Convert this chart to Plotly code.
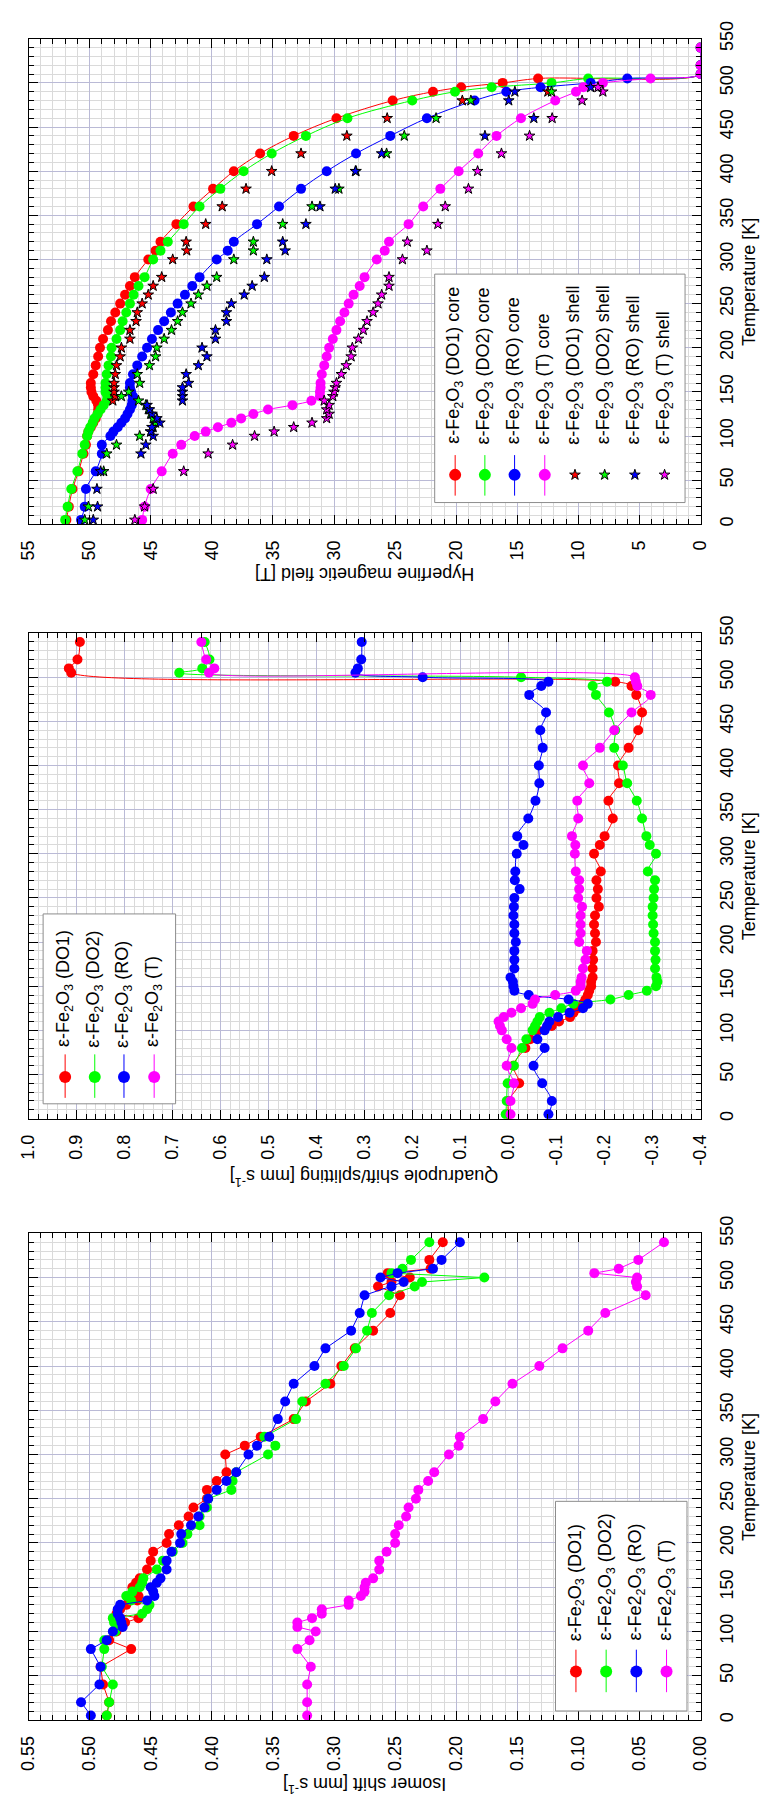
import plotly.graph_objects as go

# ======================= DATA =======================
# temperature grids [K]
T_CORE = [5, 20, 40, 60, 80, 90, 100, 105, 110, 115, 120, 125, 130, 135, 140, 145, 150, 155, 160,
          170, 180, 190, 200, 210, 220, 230, 240, 250, 260, 270, 280,
          300, 310, 320, 340, 360, 380, 400, 420, 440, 460, 480,
          490, 495, 500, 505, 510, 520, 540]
T_Q_RED = [5, 20, 40, 60, 80, 90, 100, 105, 110, 115, 120, 125, 130, 135, 140, 145, 150, 155, 160,
           170, 180, 190, 200, 210, 220, 230, 240, 250, 260, 270, 280,
           300, 310, 320, 340, 360, 380, 400, 420, 440, 460, 480,
           490, 495, 505, 510, 520, 540]
T_SHELL_DO1 = [140, 145, 150, 155, 160, 170, 180, 190, 200, 210, 220, 230, 240, 250, 260, 270, 280,
               300, 310, 320, 340, 360, 380, 400, 420, 440, 460, 480, 490]
T_SHELL_DO2 = [5, 20, 60, 80, 90, 100, 105, 110, 115, 120, 125, 130, 135, 140, 145, 150, 160,
               170, 180, 190, 200, 210, 220, 230, 240, 250, 260, 270, 280,
               300, 310, 320, 340, 360, 380, 400, 420, 440, 460, 480, 490]
T_SHELL_RO_T = [5, 20, 40, 60, 80, 90, 100, 105, 110, 115, 120, 125, 130, 135, 140, 145, 150, 155, 160,
                170, 180, 190, 200, 210, 220, 230, 240, 250, 260, 270, 280,
                300, 310, 320, 340, 360, 380, 400, 420, 440, 460, 480, 490, 495]

# Hyperfine magnetic field [T]
hf_core_do1 = [51.9, 51.7, 51.4, 50.9, 50.5, 50.3, 50.2, 50.1, 49.9, 49.7, 49.5, 49.35, 49.3, 49.3, 49.45, 49.7, 49.85, 49.9, 49.9,
               49.7, 49.5, 49.3, 49.15, 48.9, 48.5, 48.25, 47.9, 47.5, 47.1, 46.7, 46.3,
               45.2, 44.6, 44.2, 42.9, 41.5, 39.9, 38.2, 36.05, 33.3, 29.8, 25.2,
               21.9, 19.6, 16.2, 13.3, 0, 0, 0]
hf_core_do2 = [52.0, 51.8, 51.5, 51.0, 50.6, 50.4, 50.2, 50.1, 49.95, 49.75, 49.6, 49.35, 49.1, 48.85, 48.6, 48.55, 48.7, 48.7, 48.7,
               48.6, 48.45, 48.25, 48.2, 47.8, 47.5, 47.3, 47.0, 46.7, 46.4, 46.0, 45.5,
               44.8, 44.2, 43.6, 42.3, 41.0, 39.3, 37.4, 35.1, 32.3, 28.9, 23.6,
               20.1, 17.1, 12.2, 9.2, 0, 0, 0]
hf_core_ro = [50.7, 50.4, 50.3, 49.5, 49.0, 49.0, 48.3, 48.05, 47.7, 47.4, 47.1, 46.9, 46.7, 46.55, 46.5, 46.45, 46.6, 46.7, 46.7,
              46.45, 46.1, 45.7, 45.3, 44.9, 44.4, 43.9, 43.35, 42.8, 42.2, 41.6, 41.0,
              39.6, 38.7, 38.2, 36.3, 34.5, 32.7, 30.6, 28.2, 25.4, 22.4, 18.5,
              15.9, 13.1, 9.0, 6.0, 0, 0, 0]
hf_core_t = [45.7, 45.5, 45.0, 44.1, 43.2, 42.5, 41.4, 40.5, 39.5, 38.4, 37.6, 36.6, 35.4, 33.4, 31.85, 31.15, 31.15, 31.1, 31.1,
             31.0, 30.8, 30.6, 30.4, 30.1, 29.8, 29.5, 29.15, 28.8, 28.4, 27.9, 27.5,
             26.5, 25.85, 25.5, 23.9, 22.7, 21.3, 19.8, 18.2, 16.7, 14.7, 11.9,
             10.2, 9.6, 8.0, 4.1, 0, 0, 0]
hf_shell_do1 = [48.1, 47.9, 48.0, 48.0, 48.0, 47.9, 47.8, 47.5, 47.4, 46.7, 46.7, 46.2, 46.1, 45.7, 45.2, 44.8, 44.1,
                43.2, 42.05, 42.1, 40.5, 39.15, 37.2, 35.1, 32.7, 28.95, 25.65, 19.5, 12.5]
hf_shell_do2 = [50.4, 50.1, 48.85, 48.6, 47.8, 45.9, 45.0, 44.8, 44.6, 44.8, 45.0, 45.2, 45.4, 46.0, 47.4, 46.8, 45.9,
                46.1, 45.1, 44.6, 44.5, 43.9, 43.3, 42.8, 42.4, 41.7, 41.1, 40.4, 39.6,
                38.2, 36.6, 36.6, 34.2, 31.8, 29.6, 28.2, 25.7, 24.25, 21.65, 18.8, 12.2]
hf_shell_ro = [49.7, 49.35, 49.4, 49.1, 45.8, 45.4, 44.8, 45.0, 44.9, 44.25, 44.5, 44.9, 45.1, 45.3, 42.4, 42.4, 42.4, 42.4, 41.9,
               42.1, 41.1, 40.4, 40.8, 39.7, 39.7, 38.8, 38.8, 38.4, 37.35, 36.7, 35.7,
               35.5, 34.0, 34.2, 32.3, 31.15, 29.9, 28.25, 26.1, 17.65, 13.65, 15.7, 15.2, 9.0]
hf_shell_t = [46.3, 45.5, 44.8, 42.3, 40.3, 38.3, 36.5, 34.9, 33.3, 31.8, 30.6, 30.4, 30.6, 30.4, 30.8, 30.1, 30.0, 29.9, 29.8,
              29.4, 29.0, 28.6, 28.5, 28.0, 27.6, 27.3, 26.8, 26.4, 26.1, 25.5, 25.5,
              24.4, 22.4, 24.0, 21.5, 20.9, 19.0, 18.25, 16.3, 14.0, 12.15, 9.7, 8.0, 8.4]

# Quadrupole shift/splitting [mm/s]
q_do1 = [0.0, 0.0, -0.022, -0.01, -0.035, -0.045, -0.06, -0.09, -0.105, -0.128, -0.135, -0.145, -0.155, -0.16, -0.165, -0.168, -0.172, -0.172, -0.175,
         -0.175, -0.176, -0.175, -0.182, -0.18, -0.178, -0.18, -0.188, -0.183, -0.186, -0.183, -0.192,
         -0.178, -0.19, -0.2, -0.217, -0.208, -0.23, -0.228, -0.25, -0.27, -0.278, -0.266,
         -0.256, -0.222, 0.911, 0.916, 0.898, 0.893]
q_do2 = [0.006, 0.004, 0.002, -0.011, -0.028, -0.037, -0.05, -0.055, -0.06, -0.065, -0.085, -0.11, -0.135, -0.212, -0.25, -0.288, -0.307, -0.31, -0.308,
         -0.305, -0.306, -0.305, -0.305, -0.302, -0.301, -0.3, -0.3, -0.302, -0.303, -0.305, -0.29,
         -0.307, -0.294, -0.287, -0.278, -0.267, -0.247, -0.238, -0.22, -0.222, -0.209, -0.182,
         -0.175, -0.205, -0.026, 0.686, 0.638, 0.623, 0.633]
q_ro = [-0.083, -0.09, -0.07, -0.052, -0.075, -0.06, -0.075, -0.08, -0.085, -0.103, -0.127, -0.155, -0.165, -0.125, -0.042, -0.012, -0.01, -0.009, -0.004,
        -0.012, -0.012, -0.012, -0.015, -0.012, -0.012, -0.01, -0.011, -0.012, -0.023, -0.013, -0.014,
        -0.017, -0.031, -0.018, -0.041, -0.056, -0.064, -0.063, -0.071, -0.066, -0.078, -0.043,
        -0.068, -0.083, 0.179, 0.319, 0.314, 0.307, 0.306]
q_t = [-0.004, -0.004, -0.011, 0.004, -0.006, 0.004, 0.014, 0.018, 0.021, 0.01, -0.006, -0.026, -0.05, -0.055, -0.097, -0.14, -0.15, -0.15, -0.152,
       -0.155, -0.16, -0.163, -0.147, -0.15, -0.15, -0.15, -0.153, -0.145, -0.147, -0.147, -0.14,
       -0.138, -0.139, -0.132, -0.145, -0.143, -0.168, -0.155, -0.19, -0.22, -0.256, -0.296,
       -0.268, -0.265, -0.263, 0.624, 0.613, 0.63, 0.64]

# Isomer shift [mm/s]
is_do1 = [0.486, 0.484, 0.489, 0.491, 0.466, 0.484, 0.478, 0.474, 0.471, 0.46, 0.478, 0.475, 0.47, 0.461, 0.46, 0.462, 0.465, 0.462, 0.459,
          0.453, 0.45, 0.448, 0.437, 0.435, 0.427, 0.419, 0.415, 0.404, 0.404, 0.396, 0.388,
          0.389, 0.373, 0.36, 0.333, 0.323, 0.303, 0.294, 0.283, 0.268, 0.254, 0.246,
          0.264, 0.253, 0.238, 0.256, 0.221, 0.222, 0.211]
is_do2 = [0.486, 0.484, 0.481, 0.49, 0.488, 0.488, 0.479, 0.478, 0.48, 0.481, 0.457, 0.453, 0.451, 0.466, 0.47, 0.465, 0.459, 0.457, 0.456,
          0.445, 0.44, 0.432, 0.424, 0.42, 0.41, 0.41, 0.404, 0.403, 0.384, 0.383, 0.38,
          0.354, 0.348, 0.357, 0.331, 0.326, 0.307, 0.292, 0.282, 0.273, 0.269, 0.255,
          0.234, 0.228, 0.177, 0.253, 0.244, 0.237, 0.222]
is_ro = [0.499, 0.507, 0.492, 0.491, 0.499, 0.486, 0.481, 0.473, 0.474, 0.475, 0.477, 0.477, 0.475, 0.453, 0.447, 0.448, 0.45, 0.445, 0.442,
         0.437, 0.437, 0.433, 0.426, 0.425, 0.417, 0.411, 0.406, 0.403, 0.396, 0.388, 0.38,
         0.37, 0.363, 0.353, 0.346, 0.34, 0.333, 0.316, 0.307, 0.286, 0.279, 0.275,
         0.253, 0.243, 0.262, 0.248, 0.219, 0.212, 0.197]
is_t = [0.322, 0.322, 0.322, 0.319, 0.33, 0.32, 0.315, 0.33, 0.33, 0.318, 0.31, 0.31, 0.288, 0.288, 0.278, 0.275, 0.275, 0.274, 0.268,
        0.263, 0.263, 0.257, 0.25, 0.25, 0.247, 0.241, 0.239, 0.233, 0.231, 0.223, 0.218,
        0.206, 0.198, 0.197, 0.178, 0.168, 0.154, 0.132, 0.113, 0.092, 0.078, 0.045,
        0.052, 0.053, 0.052, 0.087, 0.067, 0.051, 0.03]

# tick labels
T_TICKS = [0, 50, 100, 150, 200, 250, 300, 350, 400, 450, 500, 550]
HF_TICKS = [55, 50, 45, 40, 35, 30, 25, 20, 15, 10, 5, 0]
Q_TICKS = [1.0, 0.9, 0.8, 0.7, 0.6, 0.5, 0.4, 0.3, 0.2, 0.1, 0.0, -0.1, -0.2, -0.3, -0.4]
Q_TICKTEXT = ["1.0", "0.9", "0.8", "0.7", "0.6", "0.5", "0.4", "0.3", "0.2", "0.1", "0.0",
              "-0.1", "-0.2", "-0.3", "-0.4"]
IS_TICKS = [0.55, 0.50, 0.45, 0.40, 0.35, 0.30, 0.25, 0.20, 0.15, 0.10, 0.05, 0.00]

FE = "ε-Fe<sub>2</sub>O<sub>3</sub>"
FE2 = "ε-Fe2<sub>2</sub>O<sub>3</sub>"
HF_LEGEND = [FE + " (DO1) core", FE + " (DO2) core", FE + " (RO) core", FE + " (T) core",
             FE + " (DO1) shell", FE + " (DO2) shell", FE + " (RO) shell", FE + " (T) shell"]
Q_LEGEND = [FE + " (DO1)", FE + " (DO2)", FE + " (RO)", FE + " (T)"]
IS_LEGEND = [FE + " (DO1)", FE2 + " (DO2)", FE2 + " (RO)", FE2 + " (T)"]

# ======================= STYLE / LAYOUT =======================
W, H = 772, 1800
PL, PR = 19, 709
PANEL_Y = [(21, 512), (622, 1113), (1229, 1721)]
COLS = ["#ff0000", "#00ff00", "#0000ff", "#ff00ff"]
MAJOR_GRID = "#babad6"
MINOR_GRID = "#dadada"
FONT = "Liberation Sans, Arial, sans-serif"
FS = 18

fig = go.Figure()


def add_line(x, y, color, ax, shape):
    fig.add_trace(go.Scatter(x=x, y=y, mode="lines+markers", xaxis="x" + ax, yaxis="y" + ax,
                             line=dict(color=color, width=1, shape=shape),
                             marker=dict(size=10, color=color, line=dict(width=0)),
                             showlegend=False, hoverinfo="skip"))


def add_stars(x, y, color, ax):
    fig.add_trace(go.Scatter(x=x, y=y, mode="markers", xaxis="x" + ax, yaxis="y" + ax,
                             marker=dict(symbol="star", size=8, color=color,
                                         line=dict(width=1, color="black")),
                             showlegend=False, hoverinfo="skip"))


# panel 1 : hyperfine
for vals, c in zip([hf_core_do1, hf_core_do2, hf_core_ro, hf_core_t], COLS):
    add_line(vals, T_CORE, c, "", "spline")
add_stars(hf_shell_do1, T_SHELL_DO1, COLS[0], "")
add_stars(hf_shell_do2, T_SHELL_DO2, COLS[1], "")
add_stars(hf_shell_ro, T_SHELL_RO_T, COLS[2], "")
add_stars(hf_shell_t, T_SHELL_RO_T, COLS[3], "")

# panel 2 : quadrupole
add_line(q_do1, T_Q_RED, COLS[0], "2", "spline")
add_line(q_do2, T_CORE, COLS[1], "2", "spline")
add_line(q_ro, T_CORE, COLS[2], "2", "spline")
add_line(q_t, T_CORE, COLS[3], "2", "spline")

# panel 3 : isomer shift
for vals, c in zip([is_do1, is_do2, is_ro, is_t], COLS):
    add_line(vals, T_CORE, c, "3", "linear")


def xcfg(anchor, rng, tv, tt, mdt):
    return dict(domain=[PL / W, PR / W], anchor=anchor, range=rng, tickmode="array",
                tickvals=tv, ticktext=tt, tickangle=-90, ticks="inside", ticklen=9,
                tickwidth=1, tickcolor="black", showline=True, linecolor="black", linewidth=1,
                mirror="allticks", showgrid=True, gridcolor=MAJOR_GRID, gridwidth=1,
                zeroline=False, ticklabelstandoff=8,
                minor=dict(dtick=mdt, tick0=0, ticks="inside", ticklen=5, tickcolor="black",
                           showgrid=True, gridcolor=MINOR_GRID, gridwidth=1),
                tickfont=dict(size=FS, color="black", family=FONT))


def ycfg(anchor, top, bot):
    return dict(domain=[1 - bot / H, 1 - top / H], anchor=anchor, range=[0, 550], side="right",
                tickmode="array", tickvals=T_TICKS, ticktext=[str(t) for t in T_TICKS],
                tickangle=-90, ticks="inside", ticklen=9, tickwidth=1, tickcolor="black",
                showline=True, linecolor="black", linewidth=1, mirror="allticks",
                showgrid=True, gridcolor=MAJOR_GRID, gridwidth=1, zeroline=False,
                ticklabelstandoff=10,
                minor=dict(dtick=10, tick0=0, ticks="inside", ticklen=5, tickcolor="black",
                           showgrid=True, gridcolor=MINOR_GRID, gridwidth=1),
                tickfont=dict(size=FS, color="black", family=FONT))


layout = dict(
    width=W, height=H, margin=dict(l=0, r=0, t=0, b=0),
    paper_bgcolor="white", plot_bgcolor="rgba(0,0,0,0)", showlegend=False,
    font=dict(family=FONT, size=FS, color="black"),
    xaxis=xcfg("y", [55, 0], HF_TICKS, [str(v) for v in HF_TICKS], 1),
    yaxis=ycfg("x", *PANEL_Y[0]),
    xaxis2=xcfg("y2", [1.0, -0.4], Q_TICKS, Q_TICKTEXT, 0.02),
    yaxis2=ycfg("x2", *PANEL_Y[1]),
    xaxis3=xcfg("y3", [0.55, 0.0], IS_TICKS, ["%.2f" % v for v in IS_TICKS], 0.01),
    yaxis3=ycfg("x3", *PANEL_Y[2]),
    xaxis4=dict(domain=[0, 1], anchor="y4", range=[0, W], visible=False),
    yaxis4=dict(domain=[0, 1], anchor="x4", range=[H, 0], visible=False),
)
fig.update_layout(**layout)

ann = []
# axis titles
x_titles = ["Hyperfine magnetic field [T]", "Quadrupole shift/splitting [mm s<sup>-1</sup>]",
            "Isomer shift [mm s<sup>-1</sup>]"]
x_title_y = [563, 1172, 1787]
for txt, yy in zip(x_titles, x_title_y):
    ann.append(dict(text=txt, x=(PL + PR) / 2 / W, y=1 - yy / H, xref="paper", yref="paper",
                    textangle=180, showarrow=False, xanchor="center", yanchor="middle",
                    font=dict(size=FS, color="black", family=FONT)))
for top, bot in PANEL_Y:
    ann.append(dict(text="Temperature [K]", x=758 / W, y=1 - (top + bot) / 2 / H, xref="paper",
                    yref="paper", textangle=-90, showarrow=False, xanchor="center",
                    yanchor="middle", font=dict(size=FS, color="black", family=FONT)))

# legends (drawn on a hidden pixel-space overlay)
LEGENDS = [
    dict(box=(436, 259, 693, 490), cols=[457, 487.5, 518, 549, 580, 610.5, 641.5, 672],
         my=462, ly=(442, 483), tb=433, labels=HF_LEGEND, kinds=["line"] * 4 + ["star"] * 4,
         colors=COLS + COLS),
    dict(box=(34, 906, 170, 1098), cols=[56.6, 87, 117, 148], my=1071, ly=(1048, 1092),
         tb=1043, labels=Q_LEGEND, kinds=["line"] * 4, colors=COLS),
    dict(box=(560, 1500, 695, 1712), cols=[581, 612, 643, 674], my=1672, ly=(1650, 1693),
         tb=1643, labels=IS_LEGEND, kinds=["line"] * 4, colors=COLS),
]
for lg in LEGENDS:
    x0, y0, x1, y1 = lg["box"]
    fig.add_trace(go.Scatter(x=[x0, x1, x1, x0, x0], y=[y0, y0, y1, y1, y0], mode="lines",
                             fill="toself", fillcolor="white",
                             line=dict(color="#8c8c8c", width=1), xaxis="x4", yaxis="y4",
                             showlegend=False, hoverinfo="skip"))
    for cx, lab, kind, col in zip(lg["cols"], lg["labels"], lg["kinds"], lg["colors"]):
        if kind == "line":
            fig.add_trace(go.Scatter(x=[cx, cx], y=list(lg["ly"]), mode="lines",
                                     line=dict(color=col, width=1), xaxis="x4", yaxis="y4",
                                     showlegend=False, hoverinfo="skip"))
            fig.add_trace(go.Scatter(x=[cx], y=[lg["my"]], mode="markers",
                                     marker=dict(size=12, color=col), xaxis="x4", yaxis="y4",
                                     showlegend=False, hoverinfo="skip"))
        else:
            fig.add_trace(go.Scatter(x=[cx], y=[lg["my"]], mode="markers",
                                     marker=dict(symbol="star", size=8, color=col,
                                                 line=dict(width=1, color="black")),
                                     xaxis="x4", yaxis="y4", showlegend=False, hoverinfo="skip"))
        ann.append(dict(text=lab, x=cx, y=lg["tb"], xref="x4", yref="y4", textangle=-90,
                        showarrow=False, xanchor="center", yanchor="bottom",
                        font=dict(size=FS, color="black", family=FONT)))

fig.update_layout(annotations=ann)
fig.write_html("out.html")
